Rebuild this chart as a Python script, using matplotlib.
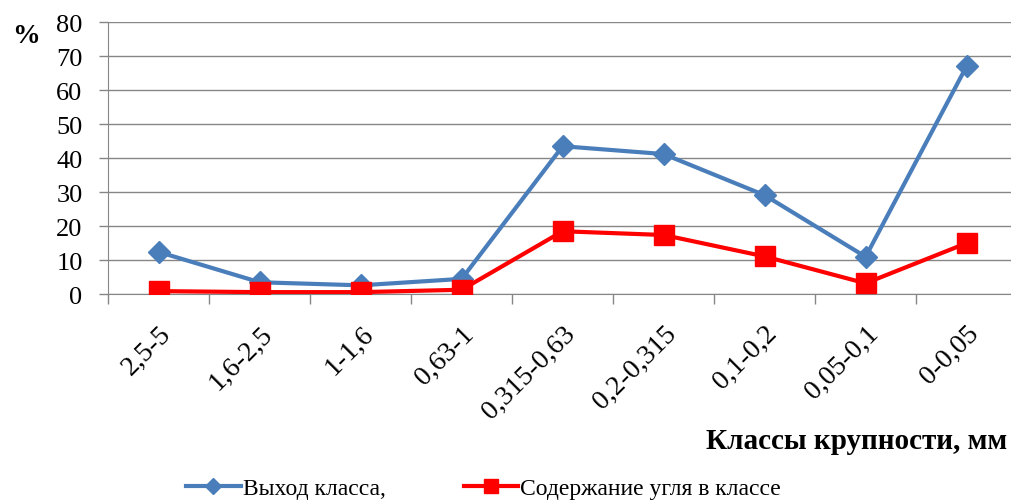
import numpy as np
import matplotlib.pyplot as plt

plt.rcParams['font.family'] = ['Liberation Serif', 'DejaVu Serif']

classes = ['2,5-5', '1,6-2,5', '1-1,6', '0,63-1', '0,315-0,63',
           '0,2-0,315', '0,1-0,2', '0,05-0,1', '0-0,05']
vyhod = [12.4, 3.5, 2.6, 4.5, 43.5, 41.2, 29.1, 11.0, 67.0]
coal = [0.9, 0.6, 0.6, 1.3, 18.5, 17.4, 11.1, 3.2, 15.0]
yticks = [0, 10, 20, 30, 40, 50, 60, 70, 80]

fig = plt.figure(figsize=(10.12, 5.02), dpi=100)
ax = fig.add_axes([0.107, 0.412, 0.898, 0.542])

x = np.arange(len(classes))
grid_c = '#868686'
ax.plot(x, vyhod, color='#4a7ebb', lw=3, marker='D', ms=11,
        label='Выход класса,', zorder=3)
ax.plot(x, coal, color='#ff0000', lw=3, marker='s', ms=14,
        label='Содержание угля в классе', zorder=3)

ax.set_xlim(-0.5, len(classes) - 0.5)
ax.set_ylim(0, 80)
ax.set_yticks(yticks)
ax.set_yticklabels([str(v) for v in yticks], fontsize=19)
ax.yaxis.grid(True, color=grid_c, lw=1)
ax.set_axisbelow(True)

# category labels at the centres, tick marks at the boundaries
ax.set_xticks(x)
ax.set_xticklabels(classes, rotation=45, ha='right', rotation_mode='anchor',
                   fontsize=20)
ax.set_xticks(np.arange(len(classes) + 1) - 0.5, minor=True)
ax.tick_params(axis='x', which='major', length=0, pad=19)
ax.tick_params(axis='x', which='minor', length=7, color=grid_c, width=1)
ax.tick_params(axis='y', length=6.5, color=grid_c, width=1, pad=12)

for s in ['top', 'right']:
    ax.spines[s].set_visible(False)
ax.spines['left'].set_color(grid_c)
ax.spines['bottom'].set_color(grid_c)

fig.text(0.012, 0.915, '%', fontsize=20, fontweight='bold')
fig.text(0.995, 0.105, 'Классы крупности, мм', fontsize=21,
         fontweight='bold', ha='right')

fig.legend(loc='center', bbox_to_anchor=(0.478, 0.025), ncol=2,
           frameon=False, fontsize=17, handlelength=2.3, handletextpad=0.1,
           columnspacing=3.3, markerscale=0.75)

fig.savefig('out.png', dpi=100, facecolor='white')
